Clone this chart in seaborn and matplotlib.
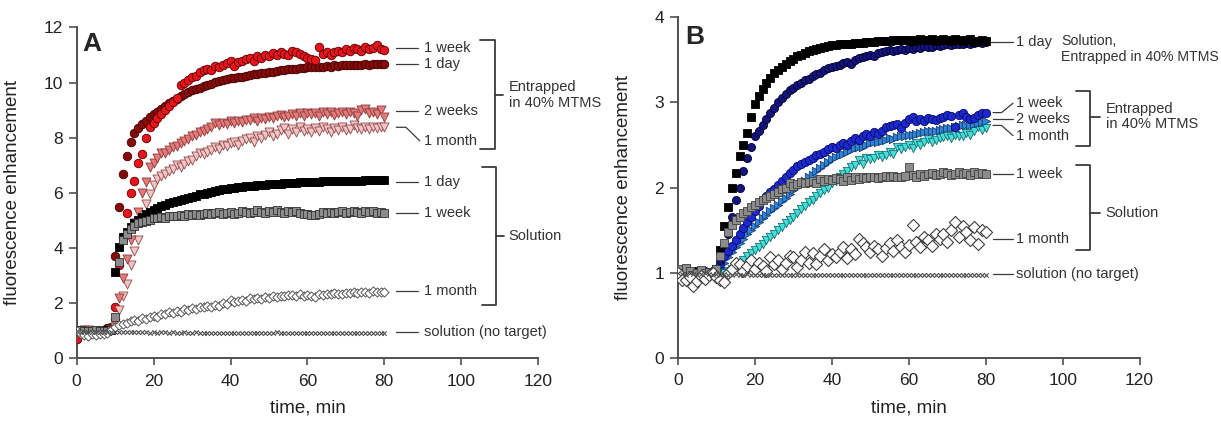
import numpy as np
import pandas as pd
import matplotlib.pyplot as plt
import seaborn as sns

# time axis, one reading per minute
minutes = list(range(0, 81))

# ---- panel A ----
a_ent_1week = [0.72, 0.95, 0.98, 1.00, 0.97, 1.00, 0.98, 1.02, 1.00, 1.05,
               1.85, 3.40, 4.40, 5.28, 6.00, 6.45, 7.10, 7.40, 8.00, 8.40,
               8.55, 8.70, 8.85, 9.00, 9.15, 9.30, 9.45, 9.90, 10.00, 10.10,
               10.20, 10.25, 10.40, 10.45, 10.50, 10.45, 10.60, 10.55, 10.65, 10.70,
               10.80, 10.60, 10.75, 10.80, 10.85, 10.88, 10.80, 10.95, 10.90, 11.00,
               10.95, 11.06, 11.00, 11.10, 11.05, 11.00, 11.15, 11.12, 11.05, 10.95,
               10.90, 10.85, 10.82, 11.30, 11.05, 11.10, 11.00, 11.12, 11.15, 11.10,
               11.20, 11.15, 11.25, 11.20, 11.15, 11.30, 11.20, 11.25, 11.35, 11.20,
               11.18]
a_ent_1day = [1.00, 1.02, 0.98, 1.00, 1.03, 0.99, 1.01, 1.00, 1.10, 1.15,
              3.71, 5.50, 6.68, 7.34, 7.85, 8.16, 8.35, 8.50, 8.62, 8.75,
              8.85, 8.95, 9.05, 9.15, 9.25, 9.35, 9.42, 9.50, 9.58, 9.65,
              9.72, 9.78, 9.82, 9.88, 9.92, 9.96, 10.03, 10.05, 10.08, 10.12,
              10.15, 10.17, 10.20, 10.22, 10.25, 10.27, 10.30, 10.32, 10.33, 10.36,
              10.38, 10.40, 10.42, 10.45, 10.45, 10.48, 10.50, 10.50, 10.52, 10.53,
              10.55, 10.55, 10.57, 10.57, 10.58, 10.60, 10.58, 10.62, 10.60, 10.62,
              10.63, 10.63, 10.64, 10.65, 10.63, 10.66, 10.65, 10.67, 10.66, 10.68,
              10.66]
a_ent_2weeks = [1.00, 0.98, 1.02, 1.00, 0.97, 1.00, 1.01, 0.99, 1.00, 1.05,
                1.30, 2.20, 2.90, 3.60, 4.30, 4.90, 5.30, 6.00, 6.40, 6.95,
                7.10, 7.25, 7.45, 7.45, 7.55, 7.65, 7.70, 7.80, 7.90, 7.95,
                8.05, 8.10, 8.20, 8.25, 8.30, 8.40, 8.52, 8.45, 8.55, 8.50,
                8.60, 8.55, 8.62, 8.58, 8.65, 8.64, 8.70, 8.60, 8.72, 8.68,
                8.75, 8.70, 8.78, 8.82, 8.75, 8.80, 8.85, 8.78, 8.88, 8.80,
                8.90, 8.85, 8.88, 8.80, 8.92, 8.85, 8.95, 8.82, 8.90, 8.95,
                8.85, 8.94, 8.90, 8.80, 9.00, 9.06, 8.90, 8.95, 8.85, 9.00,
                8.76]
a_ent_1month = [0.98, 1.00, 0.97, 1.02, 1.00, 0.98, 1.00, 1.01, 0.99, 1.03,
                1.15, 1.75, 2.25, 2.70, 3.40, 3.90, 4.30, 5.00, 5.60, 5.95,
                6.30, 6.50, 6.60, 6.70, 6.80, 6.85, 7.00, 6.95, 7.05, 7.15,
                7.20, 7.35, 7.43, 7.40, 7.50, 7.55, 7.67, 7.60, 7.75, 7.70,
                7.80, 7.85, 7.75, 7.90, 7.95, 7.98, 7.85, 8.05, 8.00, 8.10,
                8.20, 8.05, 8.15, 8.28, 8.35, 8.15, 8.30, 8.20, 8.40, 8.25,
                8.30, 8.20, 8.35, 8.25, 8.40, 8.30, 8.20, 8.35, 8.28, 8.40,
                8.28, 8.30, 8.46, 8.35, 8.30, 8.40, 8.32, 8.38, 8.35, 8.40,
                8.40]
a_sol_1day = [1.00, 1.02, 1.00, 0.98, 1.01, 1.00, 0.99, 1.00, 1.02, 1.05,
              3.15, 4.05, 4.40, 4.60, 4.78, 4.92, 5.02, 5.14, 5.22, 5.30,
              5.38, 5.45, 5.52, 5.58, 5.62, 5.66, 5.70, 5.74, 5.78, 5.82,
              5.86, 5.90, 5.95, 5.98, 6.01, 6.04, 6.08, 6.10, 6.13, 6.15,
              6.17, 6.19, 6.21, 6.22, 6.24, 6.25, 6.27, 6.28, 6.29, 6.30,
              6.31, 6.32, 6.33, 6.34, 6.35, 6.35, 6.36, 6.37, 6.38, 6.38,
              6.39, 6.40, 6.41, 6.41, 6.42, 6.42, 6.42, 6.43, 6.43, 6.44,
              6.43, 6.44, 6.44, 6.45, 6.45, 6.46, 6.46, 6.46, 6.47, 6.47,
              6.47]
a_sol_1week = [1.05, 1.02, 1.00, 0.98, 1.00, 1.02, 0.99, 1.00, 1.01, 1.05,
               1.51, 3.50, 4.30, 4.53, 4.70, 4.82, 4.90, 4.95, 4.98, 5.02,
               5.08, 5.10, 5.12, 5.10, 5.15, 5.18, 5.15, 5.20, 5.18, 5.22,
               5.20, 5.24, 5.20, 5.25, 5.28, 5.22, 5.26, 5.30, 5.25, 5.28,
               5.32, 5.25, 5.28, 5.35, 5.30, 5.27, 5.32, 5.38, 5.30, 5.28,
               5.35, 5.30, 5.38, 5.32, 5.28, 5.33, 5.30, 5.36, 5.28, 5.25,
               5.22, 5.20, 5.20, 5.25, 5.30, 5.28, 5.32, 5.26, 5.30, 5.33,
               5.28, 5.32, 5.35, 5.30, 5.28, 5.33, 5.30, 5.36, 5.28, 5.30,
               5.28]
a_sol_1month = [1.00, 0.90, 0.85, 0.83, 0.88, 0.85, 0.87, 0.90, 0.93, 1.05,
                1.15, 1.20, 1.25, 1.30, 1.35, 1.38, 1.36, 1.45, 1.42, 1.50,
                1.55, 1.52, 1.62, 1.60, 1.70, 1.65, 1.72, 1.70, 1.78, 1.75,
                1.82, 1.80, 1.88, 1.85, 1.90, 1.88, 1.95, 1.92, 2.00, 1.98,
                2.12, 2.05, 2.08, 2.12, 2.10, 2.18, 2.15, 2.20, 2.16, 2.24,
                2.20, 2.25, 2.22, 2.28, 2.26, 2.30, 2.30, 2.25, 2.32, 2.28,
                2.30, 2.26, 2.24, 2.32, 2.30, 2.35, 2.33, 2.38, 2.35, 2.32,
                2.36, 2.38, 2.40, 2.36, 2.42, 2.40, 2.38, 2.44, 2.40, 2.42,
                2.42]
a_no_target = [0.98, 0.96, 0.95, 0.97, 0.96, 0.95, 0.96, 0.97, 0.96, 0.97,
               0.96, 0.95, 0.96, 0.95, 0.96, 0.95, 0.95, 0.96, 0.95, 0.94,
               0.95, 0.94, 0.95, 0.95, 0.94, 0.95, 0.94, 0.94, 0.95, 0.94,
               0.94, 0.95, 0.94, 0.94, 0.93, 0.94, 0.94, 0.93, 0.94, 0.94,
               0.93, 0.94, 0.94, 0.93, 0.94, 0.93, 0.94, 0.93, 0.93, 0.94,
               0.93, 0.94, 0.95, 0.93, 0.94, 0.93, 0.93, 0.94, 0.94, 0.93,
               0.93, 0.94, 0.93, 0.94, 0.93, 0.93, 0.94, 0.93, 0.94, 0.93,
               0.94, 0.93, 0.94, 0.93, 0.93, 0.94, 0.93, 0.94, 0.94, 0.93,
               0.94]

# ---- panel B ----
b_sol_1day = [1.02, 1.00, 1.05, 0.98, 1.00, 1.02, 0.99, 1.00, 1.01, 1.00,
              1.05, 1.27, 1.55, 1.77, 1.99, 2.17, 2.37, 2.50, 2.64, 2.83,
              2.98, 3.07, 3.16, 3.23, 3.29, 3.34, 3.38, 3.42, 3.45, 3.48,
              3.51, 3.54, 3.56, 3.58, 3.60, 3.62, 3.63, 3.64, 3.65, 3.66,
              3.67, 3.67, 3.68, 3.68, 3.69, 3.69, 3.70, 3.70, 3.70, 3.71,
              3.71, 3.71, 3.72, 3.72, 3.72, 3.72, 3.73, 3.73, 3.73, 3.73,
              3.73, 3.72, 3.73, 3.74, 3.73, 3.73, 3.74, 3.72, 3.73, 3.74,
              3.73, 3.72, 3.74, 3.73, 3.72, 3.73, 3.74, 3.71, 3.72, 3.73,
              3.72]
b_ent_1day = [1.00, 1.02, 0.98, 1.00, 1.01, 0.99, 1.00, 1.02, 1.00, 1.01,
              1.05, 1.15, 1.34, 1.46, 1.66, 1.85, 2.00, 2.20, 2.35, 2.48,
              2.60, 2.67, 2.73, 2.80, 2.87, 2.93, 3.00, 3.05, 3.10, 3.14,
              3.17, 3.20, 3.23, 3.26, 3.28, 3.31, 3.33, 3.35, 3.38, 3.40,
              3.42, 3.43, 3.44, 3.46, 3.47, 3.45, 3.50, 3.52, 3.53, 3.55,
              3.56, 3.55, 3.58, 3.59, 3.60, 3.61, 3.60, 3.62, 3.63, 3.62,
              3.64, 3.63, 3.65, 3.64, 3.66, 3.65, 3.65, 3.67, 3.66, 3.67,
              3.68, 3.67, 3.68, 3.69, 3.68, 3.70, 3.69, 3.70, 3.71, 3.70,
              3.71]
b_ent_1week = [1.00, 0.98, 1.02, 1.00, 0.99, 1.00, 1.01, 0.98, 1.00, 1.02,
               1.05, 1.10, 1.20, 1.26, 1.32, 1.38, 1.45, 1.52, 1.60, 1.66,
               1.72, 1.78, 1.85, 1.90, 1.95, 1.98, 2.03, 2.08, 2.13, 2.17,
               2.21, 2.25, 2.28, 2.30, 2.32, 2.35, 2.38, 2.40, 2.42, 2.45,
               2.48, 2.47, 2.50, 2.52, 2.50, 2.55, 2.58, 2.56, 2.60, 2.63,
               2.60, 2.65, 2.63, 2.66, 2.71, 2.72, 2.73, 2.75, 2.70, 2.76,
               2.80, 2.83, 2.78, 2.80, 2.78, 2.82, 2.80, 2.79, 2.82, 2.83,
               2.85, 2.84, 2.71, 2.85, 2.87, 2.83, 2.80, 2.82, 2.85, 2.87,
               2.87]
b_ent_2weeks = [1.00, 0.97, 1.00, 1.02, 0.98, 1.00, 0.99, 1.01, 1.00, 0.99,
                1.02, 1.06, 1.12, 1.18, 1.25, 1.30, 1.35, 1.40, 1.45, 1.50,
                1.55, 1.60, 1.64, 1.68, 1.72, 1.76, 1.80, 1.84, 1.88, 1.93,
                1.97, 2.01, 2.05, 2.08, 2.12, 2.15, 2.19, 2.23, 2.27, 2.30,
                2.33, 2.36, 2.38, 2.40, 2.42, 2.44, 2.46, 2.48, 2.48, 2.50,
                2.52, 2.53, 2.54, 2.55, 2.56, 2.58, 2.57, 2.59, 2.60, 2.61,
                2.62, 2.62, 2.63, 2.64, 2.65, 2.66, 2.66, 2.67, 2.68, 2.69,
                2.70, 2.70, 2.71, 2.72, 2.73, 2.74, 2.74, 2.75, 2.76, 2.77,
                2.78]
b_ent_1month = [0.95, 0.92, 0.98, 1.00, 0.97, 1.00, 0.98, 1.00, 0.99, 1.00,
                0.98, 1.00, 1.00, 1.02, 1.05, 1.08, 1.12, 1.15, 1.20, 1.23,
                1.27, 1.30, 1.34, 1.38, 1.42, 1.46, 1.50, 1.54, 1.58, 1.62,
                1.66, 1.70, 1.75, 1.78, 1.83, 1.86, 1.90, 1.94, 1.97, 2.00,
                2.05, 2.08, 2.12, 2.16, 2.20, 2.24, 2.27, 2.32, 2.28, 2.35,
                2.33, 2.35, 2.38, 2.36, 2.38, 2.42, 2.40, 2.48, 2.45, 2.48,
                2.50, 2.47, 2.52, 2.50, 2.53, 2.57, 2.54, 2.56, 2.58, 2.59,
                2.60, 2.58, 2.62, 2.60, 2.61, 2.64, 2.62, 2.66, 2.71, 2.68,
                2.70]
b_sol_1week = [1.05, 1.00, 1.06, 1.02, 0.98, 1.00, 1.03, 1.00, 1.01, 1.00,
               1.05, 1.20, 1.35, 1.48, 1.56, 1.62, 1.66, 1.70, 1.73, 1.77,
               1.80, 1.83, 1.85, 1.88, 1.90, 1.93, 1.95, 1.98, 2.00, 2.05,
               2.02, 2.04, 2.06, 2.05, 2.07, 2.08, 2.05, 2.10, 2.08, 2.10,
               2.09, 2.11, 2.10, 2.08, 2.12, 2.09, 2.12, 2.10, 2.13, 2.11,
               2.12, 2.13, 2.11, 2.13, 2.14, 2.12, 2.14, 2.13, 2.12, 2.14,
               2.24, 2.15, 2.13, 2.16, 2.14, 2.16, 2.17, 2.15, 2.16, 2.18,
               2.17, 2.15, 2.16, 2.18, 2.16, 2.17, 2.15, 2.18, 2.16, 2.17,
               2.16]
b_sol_1month = [1.00, 0.92, 0.91, 0.95, 0.84, 0.90, 0.96, 0.93, 0.98, 1.00,
                0.95, 0.92, 0.89, 1.00, 1.05, 1.12, 1.10, 1.02, 1.08, 1.15,
                1.05, 1.12, 1.08, 1.02, 1.19, 1.10, 1.15, 1.05, 1.12, 1.20,
                1.18, 1.07, 1.15, 1.25, 1.12, 1.23, 1.10, 1.20, 1.28, 1.15,
                1.22, 1.18, 1.25, 1.30, 1.17, 1.28, 1.22, 1.40, 1.35, 1.30,
                1.25, 1.32, 1.28, 1.20, 1.29, 1.35, 1.26, 1.38, 1.30, 1.25,
                1.33, 1.56, 1.36, 1.30, 1.42, 1.38, 1.32, 1.45, 1.40, 1.46,
                1.36, 1.50, 1.60, 1.42, 1.55, 1.48, 1.38, 1.54, 1.34, 1.50,
                1.48]
b_no_target = [1.00, 0.99, 0.98, 1.00, 0.99, 0.98, 0.99, 1.00, 0.99, 0.98,
               0.99, 0.98, 0.99, 0.98, 0.98, 0.99, 0.98, 0.98, 0.99, 0.98,
               0.98, 0.97, 0.98, 0.98, 0.97, 0.98, 0.98, 0.97, 0.98, 0.98,
               0.97, 0.98, 0.97, 0.98, 0.98, 0.97, 0.98, 0.97, 0.97, 0.98,
               0.97, 0.98, 0.97, 0.97, 0.98, 0.97, 0.98, 0.97, 0.97, 0.98,
               0.97, 0.97, 0.98, 0.97, 0.97, 0.98, 0.97, 0.97, 0.98, 0.97,
               0.97, 0.98, 0.97, 0.97, 0.98, 0.97, 0.97, 0.98, 0.97, 0.97,
               0.98, 0.97, 0.97, 0.98, 0.97, 0.98, 0.97, 0.97, 0.98, 0.97,
               0.97]

x_ticks = [0, 20, 40, 60, 80, 100, 120]

sns.set_style("ticks")
plt.rcParams['font.family'] = ['Liberation Sans', 'DejaVu Sans']

fig = plt.figure(figsize=(12.21, 4.25), dpi=100)
axA = fig.add_axes([0.0628, 0.1565, 0.378, 0.779])
axB = fig.add_axes([0.5553, 0.1576, 0.378, 0.802])

ink = '#3a3a3a'


def dots(ax, vals, marker, size, fill, edge, lw=0.6, z=3):
    sns.scatterplot(x=minutes, y=vals, ax=ax, marker=marker, s=size,
                    color=fill, edgecolor=edge, linewidth=lw, zorder=z,
                    legend=False)


# panel A series (entrapped first, so solution marks sit on top at t < 10)
dots(axA, a_ent_1day, 'o', 38, '#8a0a0a', '#3a0000')
dots(axA, a_ent_1week, 'o', 38, '#e8141c', '#5a0000')
dots(axA, a_ent_1month, 'v', 42, '#f6c4c4', '#8a4a4a')
dots(axA, a_ent_2weeks, 'v', 42, '#e57a7a', '#8a3a3a')
dots(axA, a_sol_1day, 's', 30, 'black', 'black')
dots(axA, a_sol_1week, 's', 28, '#8c8c8c', '#303030')
dots(axA, a_sol_1month, 'D', 22, 'white', '#404040')
sns.scatterplot(x=minutes, y=a_no_target, ax=axA, marker='x', s=10,
                color='#505050', linewidth=0.8, zorder=3, legend=False)

# panel B series
dots(axB, b_ent_1month, 'v', 36, '#3fe0dc', '#1f6a6a')
dots(axB, b_ent_2weeks, '>', 36, '#2f86d8', '#153a70')
dots(axB, b_ent_1week, 'o', 36, '#1a2ad0', '#0a0a60')
dots(axB, b_ent_1day, 'o', 34, '#14147a', '#000030')
dots(axB, b_sol_1day, 's', 30, 'black', 'black')
dots(axB, b_sol_1week, 's', 30, '#8c8c8c', '#404040')
dots(axB, b_sol_1month, 'D', 38, 'white', '#404040', lw=0.8)
sns.scatterplot(x=minutes, y=b_no_target, ax=axB, marker='x', s=10,
                color='#505050', linewidth=0.8, zorder=3, legend=False)

for ax, ymax, yticks in [(axA, 12, range(0, 13, 2)), (axB, 4, range(0, 5))]:
    ax.set_xlim(0, 120)
    ax.set_ylim(0, ymax)
    ax.set_xticks(x_ticks)
    ax.set_yticks(list(yticks))
    sns.despine(ax=ax)
    for sp in ['left', 'bottom']:
        ax.spines[sp].set_color('#505050')
        ax.spines[sp].set_linewidth(1.4)
    ax.tick_params(axis='both', colors='#505050', labelcolor='#222222',
                   labelsize=12.5, width=1.2)
    ax.tick_params(axis='x', length=5, pad=6)
    ax.tick_params(axis='y', length=6, pad=4)
    ax.set_xlabel('time, min', fontsize=13.5, color='#222222', labelpad=8)
    ax.set_ylabel('fluorescence enhancement', fontsize=13.5, color='#222222')

axA.yaxis.set_label_coords(-0.12, 0.5)
axB.yaxis.set_label_coords(-0.10, 0.5)

axA.text(1.5, 11.4, 'A', fontsize=19, fontweight='bold', va='center')
axB.text(2.0, 3.77, 'B', fontsize=19, fontweight='bold', va='center')


def tag(ax, xs, ys, x_text, y_text, label):
    ax.plot(xs, ys, color=ink, lw=0.9, clip_on=False, zorder=4)
    ax.text(x_text, y_text, label, fontsize=10.5, color='#333333',
            va='center', ha='left', clip_on=False)


def bracket(ax, x, x_cap, y_top, y_bot, y_mid, x_tick, x_text, label):
    ax.plot([x_cap, x, x, x_cap], [y_top, y_top, y_bot, y_bot], color=ink,
            lw=1.3, clip_on=False, zorder=4)
    ax.plot([x, x_tick], [y_mid, y_mid], color=ink, lw=1.3, clip_on=False)
    ax.text(x_text, y_mid, label, fontsize=10.5, color='#333333',
            va='center', ha='left', linespacing=1.1, clip_on=False)


# panel A labels
tag(axA, [83.1, 88.7], [11.24, 11.24], 90.2, 11.24, '1 week')
tag(axA, [83.1, 88.7], [10.67, 10.67], 90.2, 10.67, '1 day')
tag(axA, [83.1, 88.7], [8.98, 8.98], 90.2, 8.98, '2 weeks')
tag(axA, [83.1, 85.6, 89.2], [8.38, 8.38, 7.89], 90.2, 7.89, '1 month')
tag(axA, [83.1, 88.7], [6.41, 6.41], 90.2, 6.41, '1 day')
tag(axA, [83.1, 88.7], [5.28, 5.28], 90.2, 5.28, '1 week')
tag(axA, [83.1, 88.7], [2.46, 2.46], 90.2, 2.46, '1 month')
tag(axA, [83.1, 88.7], [0.95, 0.95], 90.2, 0.95, 'solution (no target)')
bracket(axA, 108.7, 104.8, 11.54, 7.58, 9.55, 110.8, 112.3,
        'Entrapped\nin 40% MTMS')
bracket(axA, 109.1, 105.5, 6.93, 1.94, 4.44, 111.0, 112.3, 'Solution')

# panel B labels
tag(axB, [81.5, 87.0], [3.71, 3.71], 88.0, 3.71, '1 day')
axB.text(99.6, 3.80, 'Solution,\nEntrapped in 40% MTMS', fontsize=10.2,
         color='#333333', va='top', ha='left', linespacing=1.15,
         clip_on=False)
tag(axB, [81.9, 84.1, 87.1], [2.88, 2.88, 2.99], 88.0, 2.99, '1 week')
tag(axB, [81.9, 87.1], [2.80, 2.80], 88.0, 2.80, '2 weeks')
tag(axB, [81.9, 84.1, 87.1], [2.73, 2.73, 2.61], 88.0, 2.61, '1 month')
tag(axB, [81.9, 87.1], [2.16, 2.16], 88.0, 2.16, '1 week')
tag(axB, [81.9, 87.1], [1.40, 1.40], 88.0, 1.40, '1 month')
tag(axB, [81.9, 87.1], [0.99, 0.99], 88.0, 0.99, 'solution (no target)')
bracket(axB, 107.2, 103.5, 3.13, 2.49, 2.83, 109.6, 111.2,
        'Entrapped\nin 40% MTMS')
bracket(axB, 107.2, 103.5, 2.26, 1.27, 1.70, 109.6, 111.2, 'Solution')

fig.savefig('out.png', dpi=100)
